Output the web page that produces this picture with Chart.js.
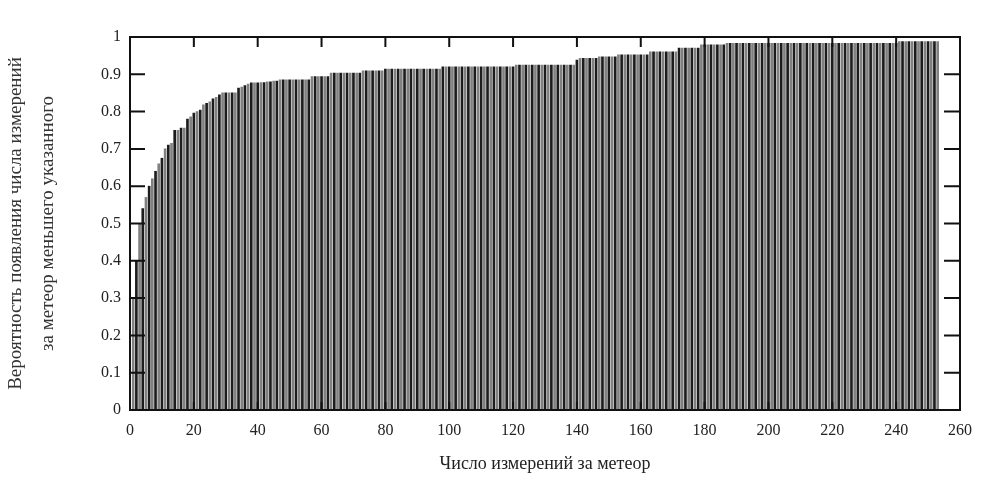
<!DOCTYPE html>
<html lang="ru">
<head>
  <meta charset="UTF-8">
  <title>Число измерений за метеор</title>
  <script src="https://cdn.jsdelivr.net/npm/chart.js"></script>
  <style>
    body { margin: 0; background: #fff; }
    canvas { display: block; }
  </style>
</head>
<body>
  <canvas id="chart" width="986" height="481"></canvas>
  <script>
// вероятность для n = 1, 2, 3 ... (по 10 значений в строке)
const probs = [
  0.30, 0.40, 0.50, 0.54, 0.57, 0.60, 0.62, 0.64, 0.66, 0.675,
  0.70, 0.71, 0.715, 0.75, 0.75, 0.756, 0.756, 0.78, 0.786, 0.796,
  0.80, 0.804, 0.818, 0.822, 0.826, 0.834, 0.838, 0.845, 0.85, 0.85,
  0.85, 0.85, 0.85, 0.863, 0.866, 0.87, 0.874, 0.877, 0.877, 0.877,
  0.878, 0.878, 0.88, 0.88, 0.882, 0.882, 0.885, 0.885, 0.885, 0.885,
  0.885, 0.885, 0.885, 0.885, 0.885, 0.885, 0.894, 0.894, 0.894, 0.894,
  0.894, 0.894, 0.903, 0.903, 0.903, 0.903, 0.903, 0.903, 0.903, 0.903,
  0.903, 0.903, 0.909, 0.909, 0.909, 0.909, 0.909, 0.909, 0.909, 0.914,
  0.914, 0.914, 0.914, 0.914, 0.914, 0.914, 0.914, 0.914, 0.914, 0.914,
  0.914, 0.914, 0.914, 0.914, 0.914, 0.914, 0.914, 0.92, 0.92, 0.92,
  0.92, 0.92, 0.92, 0.92, 0.92, 0.92, 0.92, 0.92, 0.92, 0.92,
  0.92, 0.92, 0.92, 0.92, 0.92, 0.92, 0.92, 0.92, 0.92, 0.92,
  0.925, 0.925, 0.925, 0.925, 0.925, 0.925, 0.925, 0.925, 0.925, 0.925,
  0.925, 0.925, 0.925, 0.925, 0.925, 0.925, 0.925, 0.925, 0.925, 0.938,
  0.943, 0.943, 0.943, 0.943, 0.943, 0.943, 0.947, 0.947, 0.947, 0.947,
  0.947, 0.947, 0.952, 0.952, 0.952, 0.952, 0.952, 0.952, 0.952, 0.952,
  0.952, 0.952, 0.96, 0.96, 0.96, 0.96, 0.96, 0.96, 0.96, 0.96,
  0.96, 0.97, 0.97, 0.97, 0.97, 0.97, 0.97, 0.97, 0.979, 0.979,
  0.979, 0.979, 0.979, 0.979, 0.979, 0.979, 0.983, 0.983, 0.983, 0.983,
  0.983, 0.983, 0.983, 0.983, 0.983, 0.983, 0.983, 0.983, 0.983, 0.983,
  0.983, 0.983, 0.983, 0.983, 0.983, 0.983, 0.983, 0.983, 0.983, 0.983,
  0.983, 0.983, 0.983, 0.983, 0.983, 0.983, 0.983, 0.983, 0.983, 0.983,
  0.983, 0.983, 0.983, 0.983, 0.983, 0.983, 0.983, 0.983, 0.983, 0.983,
  0.983, 0.983, 0.983, 0.983, 0.983, 0.983, 0.983, 0.983, 0.983, 0.983,
  0.988, 0.988, 0.988, 0.988, 0.988, 0.988, 0.988, 0.988, 0.988, 0.988,
  0.988, 0.988, 0.988
];
const xTicks = [0, 20, 40, 60, 80, 100, 120, 140, 160, 180, 200, 220, 240, 260];
const yTicks = [0, 0.1, 0.2, 0.3, 0.4, 0.5, 0.6, 0.7, 0.8, 0.9, 1];
const xTitle = 'Число измерений за метеор';
const yTitle = ['Вероятность появления числа измерений', 'за метеор меньшего указанного'];

const points = probs.map((p, i) => ({ x: i + 1, y: p }));

// рамка и штрихи внутрь, как на исходном графике
const frame = {
  id: 'frame',
  afterDatasetsDraw(chart) {
    const { ctx, chartArea: a, scales: { x, y } } = chart;
    ctx.save();
    ctx.strokeStyle = '#111';
    ctx.lineWidth = 2;
    ctx.strokeRect(a.left, a.top, a.right - a.left, a.bottom - a.top);
    ctx.beginPath();
    xTicks.forEach(v => {
      const px = x.getPixelForValue(v);
      ctx.moveTo(px, a.top); ctx.lineTo(px, a.top + 10);
      ctx.moveTo(px, a.bottom); ctx.lineTo(px, a.bottom - 8);
    });
    yTicks.forEach(v => {
      const py = y.getPixelForValue(v);
      ctx.moveTo(a.left, py); ctx.lineTo(a.left + 15, py);
      ctx.moveTo(a.right, py); ctx.lineTo(a.right - 16, py);
    });
    ctx.stroke();
    ctx.restore();
  }
};

new Chart(document.getElementById('chart'), {
  type: 'bar',
  data: {
    datasets: [{
      data: points,
      backgroundColor: c => (c.dataIndex % 2 ? '#1c1c1c' : '#808080'),
      barThickness: 2,
      borderWidth: 0
    }]
  },
  options: {
    responsive: false,
    animation: false,
    devicePixelRatio: 1,
    layout: { padding: { top: 37, right: 26, left: 0, bottom: 0 } },
    plugins: { legend: { display: false }, tooltip: { enabled: false } },
    scales: {
      x: {
        type: 'linear',
        offset: false,
        min: 0,
        max: 260,
        afterFit: s => { s.height = 71; },
        afterBuildTicks: s => { s.ticks = xTicks.map(v => ({ value: v })); },
        grid: { display: false, drawTicks: false },
        border: { display: false },
        ticks: {
          autoSkip: false,
          maxRotation: 0,
          padding: 11,
          color: '#222',
          font: { family: 'Liberation Serif', size: 16 }
        },
        title: {
          display: true,
          text: xTitle,
          color: '#222',
          padding: { top: 0, bottom: 6 },
          font: { family: 'Liberation Serif', size: 18 }
        }
      },
      y: {
        min: 0,
        max: 1,
        afterFit: s => { s.width = 130; },
        afterBuildTicks: s => { s.ticks = yTicks.map(v => ({ value: v })); },
        grid: { display: false, drawTicks: false },
        border: { display: false },
        ticks: {
          padding: 9,
          color: '#222',
          font: { family: 'Liberation Serif', size: 16 },
          callback: v => String(+v.toFixed(1))
        },
        title: {
          display: true,
          text: yTitle,
          color: '#333',
          padding: { top: 0, bottom: 0 },
          font: { family: 'Liberation Serif', size: 19, lineHeight: 1.7 }
        }
      }
    }
  },
  plugins: [frame]
});
  </script>
</body>
</html>
